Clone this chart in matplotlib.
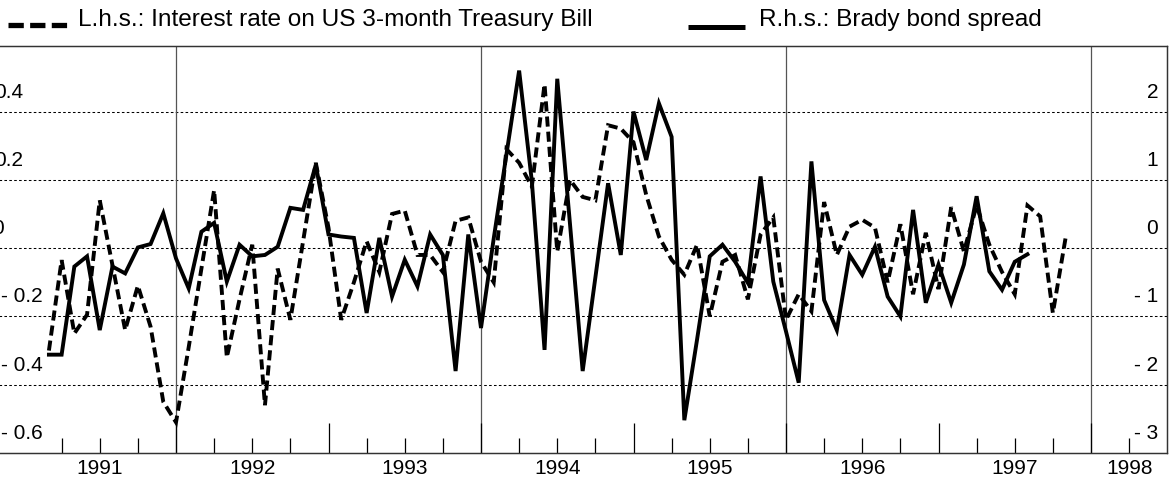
import numpy as np
import matplotlib.pyplot as plt
from matplotlib import transforms
from matplotlib.lines import Line2D

plt.rcParams['font.family'] = ['Liberation Sans', 'DejaVu Sans']

# monthly changes, first observation March 1991
bill_start = 1991 + 2 / 12
bill_change = [
    -0.30, -0.035, -0.25, -0.195, 0.14, -0.05, -0.24, -0.11, -0.23, -0.45,
    -0.51, -0.29, -0.06, 0.17, -0.32, -0.15, 0.01, -0.46, -0.06, -0.21,
    0.02, 0.25, 0.06, -0.21, -0.10, 0.02, -0.07, 0.10, 0.11, -0.02,
    -0.02, -0.07, 0.08, 0.09, -0.04, -0.10, 0.29, 0.25, 0.18, 0.48,
    -0.01, 0.20, 0.15, 0.14, 0.36, 0.35, 0.31, 0.156, 0.034, -0.034,
    -0.078, 0.01, -0.20, -0.04, -0.02, -0.15, 0.04, 0.09, -0.21, -0.135,
    -0.185, 0.135, -0.02, 0.063, 0.083, 0.06, -0.10, 0.07, -0.135, 0.045,
    -0.12, 0.12, -0.01, 0.125, 0.01, -0.07, -0.135, 0.125, 0.093, -0.19,
    0.03,
]
brady_change = [
    -1.56, -1.56, -0.27, -0.12, -1.20, -0.27, -0.37, 0.01, 0.06, 0.51,
    -0.15, -0.59, 0.24, 0.37, -0.49, 0.05, -0.12, -0.10, 0.02, 0.59,
    0.56, 1.22, 0.20, 0.17, 0.15, -0.95, 0.15, -0.71, -0.17, -0.56,
    0.20, -0.10, -1.80, 0.20, -1.17, 0.14, 1.37, 2.60, 0.98, -1.49,
    2.48, 0.36, -1.80, -0.43, 0.95, -0.10, 2.00, 1.29, 2.12, 1.63,
    -2.52, -1.34, -0.12, 0.05, -0.20, -0.51, 1.05, -0.49, -1.22, -1.97,
    1.27, -0.76, -1.20, -0.10, -0.39, 0.02, -0.71, -1.00, 0.56, -0.80,
    -0.24, -0.80, -0.24, 0.76, -0.34, -0.61, -0.20, -0.09,
]

year_labels = ['1991', '1992', '1993', '1994', '1995', '1996', '1997', '1998']
left_ticks = [0.4, 0.2, 0.0, -0.2, -0.4, -0.6]
left_labels = ['0.4', '0.2', '0', '- 0.2', '- 0.4', '- 0.6']
right_ticks = [2, 1, 0, -1, -2, -3]
right_labels = ['2', '1', '0', '- 1', '- 2', '- 3']

W, H = 1170, 480
fig = plt.figure(figsize=(W / 100, H / 100), dpi=100)

x0_px, x1_px = -52.75, 1167.25
ax = fig.add_axes([x0_px / W, (H - 453) / H, (x1_px - x0_px) / W, (453 - 46) / H])
ax.set_xlim(1990.5, 1998.5)
ax.set_ylim(-0.6, 0.592)
ax2 = ax.twinx()
ax2.set_ylim(-3.0, 2.96)

for a in (ax, ax2):
    for s in a.spines.values():
        s.set_color('#333333')
        s.set_linewidth(0.9)
    a.spines['left'].set_visible(False)
    a.set_yticks([])

# dotted grid
for v in [0.4, 0.2, 0.0, -0.2, -0.4]:
    ax.axhline(v, color='black', lw=0.75, ls=(0, (2.5, 2.2)), zorder=1)

# full vertical lines every two years
for yr in [1992, 1994, 1996, 1998]:
    ax.axvline(yr, color='#555555', lw=0.9, zorder=1)

# ticks
ax.set_xticks([1992, 1993, 1994, 1995, 1996, 1997, 1998])
ax.set_xticks([y + q / 4 for y in range(1991, 1999) for q in (1, 2, 3)
               if y + q / 4 < 1998.5], minor=True)
ax.tick_params(axis='x', which='major', direction='in', length=21.6, width=0.9,
               color='black', labelbottom=False, top=False)
ax.tick_params(axis='x', which='minor', direction='in', length=10.8, width=0.9,
               color='black', top=False)

t_bill = bill_start + np.arange(len(bill_change)) / 12
t_brady = bill_start + np.arange(len(brady_change)) / 12

ax.plot(t_bill, bill_change, color='black', lw=2.8, dashes=(2.6, 1.3),
        dash_joinstyle='miter', dash_capstyle='butt', zorder=3)
ax2.plot(t_brady, brady_change, color='black', lw=2.8,
         solid_joinstyle='miter', zorder=3)

fs = 15
up = transforms.ScaledTranslation(0, 14 / 72, fig.dpi_scale_trans)

# left scale labels, drawn inside the frame
left_x = [23, 23, 4, 43, 43, 43]
for v, lab, xp in zip(left_ticks, left_labels, left_x):
    tr = transforms.blended_transform_factory(fig.transFigure, ax.transData) + up
    fig.text(xp / W, v, lab, transform=tr, ha='right', va='center', fontsize=fs)

for v, lab in zip(right_ticks, right_labels):
    tr = transforms.blended_transform_factory(fig.transFigure, ax2.transData) + up
    fig.text(1158 / W, v, lab, transform=tr, ha='right', va='center', fontsize=fs)

# year labels under the axis
year_tr = transforms.blended_transform_factory(ax.transData, ax.transAxes)
for i, lab in enumerate(year_labels):
    xpos = 1991.5 + i if lab != '1998' else 1998.25
    ax.text(xpos, -15 / 407, lab, transform=year_tr, ha='center', va='center',
            fontsize=fs, clip_on=False)

# legend above the frame
leg_fs = 17.6
fig.add_artist(Line2D([8 / W, 67 / W], [1 - 25 / H] * 2, transform=fig.transFigure,
                      color='black', lw=3.8, dashes=(2.9, 1.2), dash_capstyle='butt'))
fig.text(78 / W, 1 - 20 / H, 'L.h.s.: Interest rate on US 3-month Treasury Bill',
         ha='left', va='center', fontsize=leg_fs)
fig.add_artist(Line2D([688 / W, 745 / W], [1 - 27 / H] * 2, transform=fig.transFigure,
                      color='black', lw=3.6, solid_capstyle='butt'))
fig.text(759 / W, 1 - 20 / H, 'R.h.s.: Brady bond spread',
         ha='left', va='center', fontsize=leg_fs)

fig.savefig('out.png', dpi=100)
